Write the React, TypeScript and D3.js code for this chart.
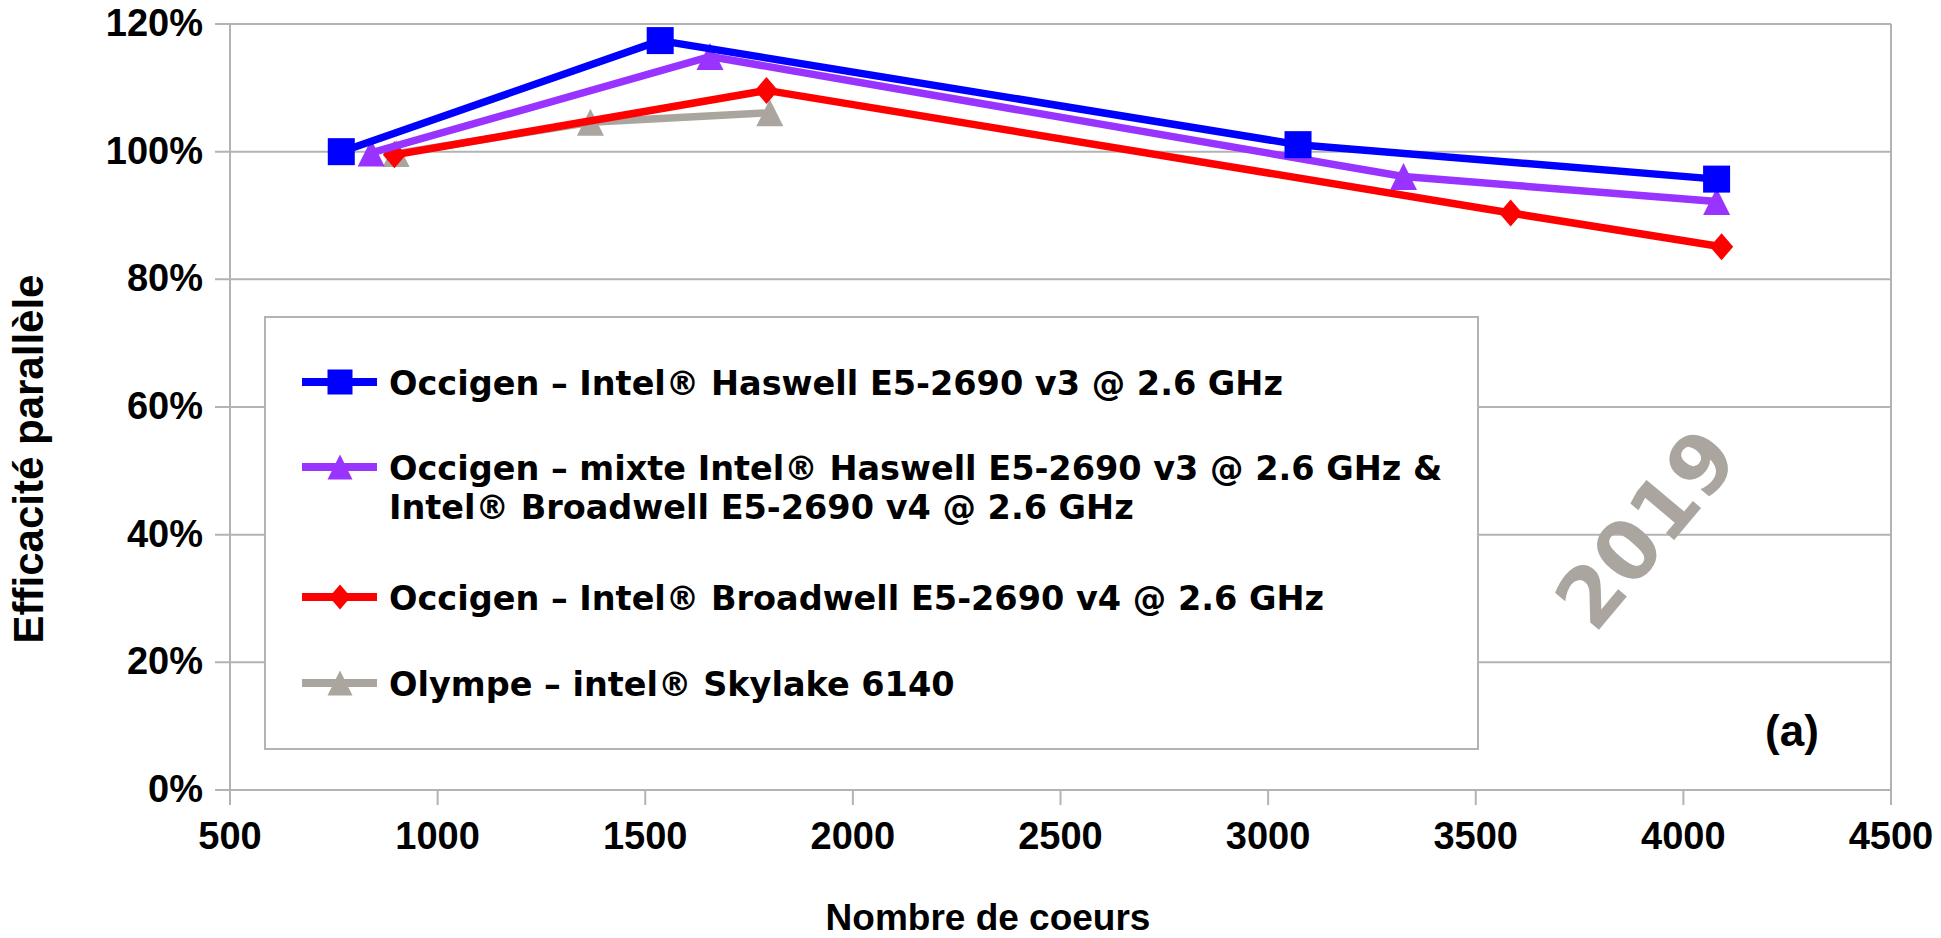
import React from 'react';
import * as d3 from 'd3';

const xTickValues = [500, 1000, 1500, 2000, 2500, 3000, 3500, 4000, 4500];
const yTickValues = [0, 20, 40, 60, 80, 100, 120];

const haswellCores = [768, 1536, 3072, 4080];
const haswellEff = [100, 117.4, 101.1, 95.7];
const mixteCores = [840, 1656, 3326, 4080];
const mixteEff = [99.8, 114.9, 96.1, 92.2];
const broadwellCores = [896, 1792, 3584, 4092];
const broadwellEff = [99.5, 109.6, 90.4, 85.1];
const skylakeCores = [900, 1368, 1800];
const skylakeEff = [99.7, 104.6, 106.1];

const legendLabels = [
  ['Occigen – Intel® Haswell E5-2690 v3 @ 2.6 GHz'],
  ['Occigen – mixte Intel® Haswell E5-2690 v3 @ 2.6 GHz &', 'Intel® Broadwell E5-2690 v4 @ 2.6 GHz'],
  ['Occigen – Intel® Broadwell E5-2690 v4 @ 2.6 GHz'],
  ['Olympe – intel® Skylake 6140'],
];

const W = 1941;
const H = 938;
const plot = { left: 230, right: 1891, top: 24, bottom: 790 };

type Shape = 'square' | 'triangle' | 'diamond';
interface Series { cores: number[]; eff: number[]; color: string; shape: Shape; label: string[] }

const series: Series[] = [
  { cores: haswellCores, eff: haswellEff, color: '#0000ff', shape: 'square', label: legendLabels[0] },
  { cores: mixteCores, eff: mixteEff, color: '#9933ff', shape: 'triangle', label: legendLabels[1] },
  { cores: broadwellCores, eff: broadwellEff, color: '#ff0000', shape: 'diamond', label: legendLabels[2] },
  { cores: skylakeCores, eff: skylakeEff, color: '#aaa59e', shape: 'triangle', label: legendLabels[3] },
];

function markerPath(shape: Shape, cx: number, cy: number, s: number): string {
  const h = s / 2;
  const p = d3.path();
  if (shape === 'square') {
    p.rect(cx - h, cy - h, s, s);
  } else if (shape === 'triangle') {
    p.moveTo(cx, cy - h);
    p.lineTo(cx + h, cy + h);
    p.lineTo(cx - h, cy + h);
    p.closePath();
  } else {
    const hw = s * 0.43;
    p.moveTo(cx, cy - h);
    p.lineTo(cx + hw, cy);
    p.lineTo(cx, cy + h);
    p.lineTo(cx - hw, cy);
    p.closePath();
  }
  return p.toString();
}

const GRID = '#b3b3b3';
const AXIS_FONT = '"Liberation Sans", Arial, sans-serif';
const LEGEND_FONT = '"DejaVu Sans", sans-serif';

export default function App() {
  const x = d3.scaleLinear().domain([500, 4500]).range([plot.left, plot.right]);
  const y = d3.scaleLinear().domain([0, 120]).range([plot.bottom, plot.top]);
  const line = d3.line<[number, number]>().x((d) => x(d[0])).y((d) => y(d[1]));

  const drawOrder = [3, 2, 1, 0];
  const legendY = [382, 467, 597, 683];

  return (
    <div style={{ position: 'fixed', left: 0, top: 0, background: '#fff' }}>
      <svg width={W} height={H} xmlns="http://www.w3.org/2000/svg">
        <rect x={0} y={0} width={W} height={H} fill="#ffffff" />
        {yTickValues.map((t) => (
          <line key={'g' + t} x1={plot.left - 15} x2={plot.right} y1={y(t)} y2={y(t)} stroke={GRID} strokeWidth={2} />
        ))}
        <line x1={plot.left} x2={plot.left} y1={plot.top} y2={plot.bottom + 15} stroke={GRID} strokeWidth={2} />
        <line x1={plot.right} x2={plot.right} y1={plot.top} y2={plot.bottom + 15} stroke={GRID} strokeWidth={2} />
        {xTickValues.map((t) => (
          <line key={'xt' + t} x1={x(t)} x2={x(t)} y1={plot.bottom} y2={plot.bottom + 15} stroke={GRID} strokeWidth={2} />
        ))}
        {yTickValues.map((t) => (
          <text key={'yl' + t} x={203} y={y(t) + 12} textAnchor="end" fontFamily={AXIS_FONT} fontWeight="bold" fontSize={38} fill="#000">
            {t + '%'}
          </text>
        ))}
        {xTickValues.map((t) => (
          <text key={'xl' + t} x={x(t)} y={849} textAnchor="middle" fontFamily={AXIS_FONT} fontWeight="bold" fontSize={38} fill="#000">
            {t}
          </text>
        ))}
        <text x={988} y={930} textAnchor="middle" fontFamily={AXIS_FONT} fontWeight="bold" fontSize={37} fill="#000">
          Nombre de coeurs
        </text>
        <text transform="translate(43,459) rotate(-90)" textAnchor="middle" fontFamily={AXIS_FONT} fontWeight="bold" fontSize={42} fill="#000">
          Efficacité parallèle
        </text>

        <rect x={265} y={317} width={1213} height={432} fill="#fff" stroke={GRID} strokeWidth={2} />
        {series.map((s, i) => (
          <g key={'lg' + i}>
            <line x1={302} x2={377} y1={legendY[i]} y2={legendY[i]} stroke={s.color} strokeWidth={8} />
            <path d={markerPath(s.shape, 340, legendY[i], 25)} fill={s.color} />
            {s.label.map((ln, j) => (
              <text key={j} x={389} y={legendY[i] + 12.5 + j * 39.5} fontFamily={LEGEND_FONT} fontWeight="bold" fontSize={33.5} fill="#000">
                {ln}
              </text>
            ))}
          </g>
        ))}

        <g transform="translate(1645,528) rotate(-50)">
          <text x={0} y={30} textAnchor="middle" fontFamily={LEGEND_FONT} fontWeight="bold" fontSize={82} fill="#aaa59f">
            2019
          </text>
        </g>
        <text x={1792} y={746} textAnchor="middle" fontFamily={AXIS_FONT} fontWeight="bold" fontSize={44} fill="#000">
          (a)
        </text>

        {drawOrder.map((i) => {
          const s = series[i];
          const pts: [number, number][] = s.cores.map((c, k) => [c, s.eff[k]]);
          return (
            <g key={'s' + i}>
              <path d={line(pts) || ''} fill="none" stroke={s.color} strokeWidth={7.5} strokeLinejoin="round" />
              {pts.map((p, k) => (
                <path key={k} d={markerPath(s.shape, x(p[0]), y(p[1]), 27)} fill={s.color} />
              ))}
            </g>
          );
        })}
      </svg>
    </div>
  );
}
